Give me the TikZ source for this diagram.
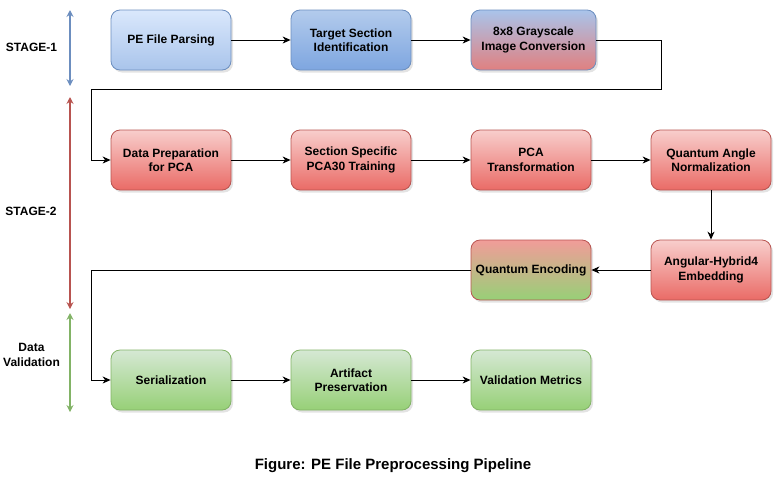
\documentclass[tikz,border=0pt]{standalone}
\usepackage{fontspec}
\setmainfont{Liberation Sans}
\usetikzlibrary{arrows.meta,shadows}
\definecolor{bluetop}{HTML}{DAE8FC}
\definecolor{bluebot}{HTML}{A9C4EB}
\definecolor{blue2top}{HTML}{B3CBEC}
\definecolor{blue2bot}{HTML}{7EA6E0}
\definecolor{blueline}{HTML}{6C8EBF}
\definecolor{redtop}{HTML}{F8CECC}
\definecolor{redbot}{HTML}{EA6B66}
\definecolor{redline}{HTML}{B85450}
\definecolor{redmid}{HTML}{F19C99}
\definecolor{greentop}{HTML}{D5E8D4}
\definecolor{greenbot}{HTML}{97D077}
\definecolor{greenline}{HTML}{82B366}
\definecolor{mixbot}{HTML}{E08080}
\tikzset{
  box/.style={draw, rounded corners=9pt, minimum width=120pt, minimum height=60pt,
    inner sep=0pt, align=center, line width=0.8pt,
    font=\bfseries\fontsize{12}{14.5}\selectfont,
    drop shadow={opacity=0.22, shadow xshift=2pt, shadow yshift=-2.5pt}},
  bluebox/.style={box, draw=blueline, top color=bluetop, bottom color=bluebot},
  blue2box/.style={box, draw=blueline, top color=blue2top, bottom color=blue2bot},
  redbox/.style={box, draw=redline, top color=redtop, bottom color=redbot},
  greenbox/.style={box, draw=greenline, top color=greentop, bottom color=greenbot},
  conn/.style={draw=black, line width=0.9pt, -{Stealth[length=8pt,width=7pt,inset=2.5pt]}},
  stagearr/.style={line width=1.1pt, {Stealth[length=7pt,width=7pt,inset=2.5pt]}-{Stealth[length=7pt,width=7pt,inset=2.5pt]}},
  lbl/.style={font=\bfseries\fontsize{12}{14.5}\selectfont, align=center}
}
\begin{document}
\begin{tikzpicture}[x=1pt,y=-1pt]
\useasboundingbox (0,0) rectangle (778,480);
% Row 1
\node[bluebox] (pe) at (171,40) {PE File Parsing};
\node[blue2box] (ts) at (351,40) {Target Section\\Identification};
\node[box, draw=blueline, top color=bluebot, bottom color=mixbot, minimum width=125pt] (gs) at (533.5,40) {8x8 Grayscale\\Image Conversion};
% Row 2
\node[redbox] (dp) at (171,160) {Data Preparation\\for PCA};
\node[redbox] (sp) at (351,160) {Section Specific\\PCA30 Training};
\node[redbox] (pt) at (531,160) {PCA\\Transformation};
\node[redbox] (qa) at (711,160) {Quantum Angle\\Normalization};
% Row 3
\node[box, draw=redline, top color=redmid, bottom color=greenbot] (qe) at (531,270) {Quantum Encoding};
\node[redbox] (ah) at (711,270) {Angular-Hybrid4\\Embedding};
% Row 4
\node[greenbox] (se) at (171,380) {Serialization};
\node[greenbox] (ap) at (351,380) {Artifact\\Preservation};
\node[greenbox] (vm) at (531,380) {Validation Metrics};
% connectors
\coordinate (t1) at (661,89);
\coordinate (t2) at (91,89);
\coordinate (t3) at (91,270);
\draw[conn] (pe) -- (ts);
\draw[conn] (ts) -- (gs);
\draw[conn] (gs.east) -| (t1) -- (t2) |- (dp.west);
\draw[conn] (dp) -- (sp);
\draw[conn] (sp) -- (pt);
\draw[conn] (pt) -- (qa);
\draw[conn] (qa) -- (ah);
\draw[conn] (ah) -- (qe);
\draw[conn] (qe.west) -- (t3) |- (se.west);
\draw[conn] (se) -- (ap);
\draw[conn] (ap) -- (vm);
% stage arrows
\coordinate (s1a) at (70,10); \coordinate (s1b) at (70,86);
\coordinate (s2a) at (70,97); \coordinate (s2b) at (70,309);
\coordinate (s3a) at (70,313); \coordinate (s3b) at (70,412);
\draw[stagearr, draw=blueline, fill=blueline] (s1a) -- (s1b);
\draw[stagearr, draw=redline, fill=redline] (s2a) -- (s2b);
\draw[stagearr, draw=greenline, fill=greenline] (s3a) -- (s3b);
\node[lbl] (l1) at (31.5,47) {STAGE-1};
\node[lbl] (l2) at (31,211) {STAGE-2};
\node[lbl] (l3) at (31.5,355) {Data\\Validation};
\node[font=\bfseries\fontsize{15}{18}\selectfont] (cap) at (393,466) {Figure: PE File Preprocessing Pipeline};
\end{tikzpicture}
\end{document}
